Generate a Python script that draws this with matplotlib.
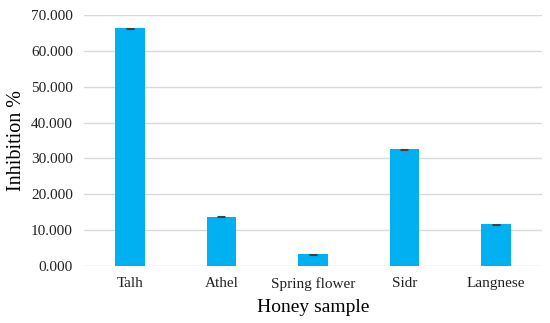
import numpy as np
import matplotlib.pyplot as plt

# values
samples = ['Talh', 'Athel', 'Spring flower', 'Sidr', 'Langnese']
inhibition = [66.3, 13.8, 3.3, 32.5, 11.6]
errors = [0.2, 0.2, 0.15, 0.2, 0.15]

plt.rcParams['font.family'] = ['Liberation Serif', 'DejaVu Serif']

fig = plt.figure(figsize=(5.5, 3.23), dpi=100)
ax = fig.add_axes([0.153, 0.1765, 0.832, 0.777])

x = np.arange(len(samples))
ax.bar(x, inhibition, width=0.32, color='#00b0f0', zorder=3,
       yerr=errors, error_kw=dict(ecolor='#404040', elinewidth=0.8, capsize=3, capthick=0.8))

ax.set_ylim(0, 70)
ax.set_xlim(-0.5, len(samples) - 0.5)
ax.set_yticks(np.arange(0, 71, 10))
ax.set_yticklabels(['%.3f' % v for v in np.arange(0, 71, 10)])
ax.set_xticks(x)
ax.set_xticklabels(samples)
ax.tick_params(axis='both', length=0, labelsize=11, colors='#222222')
ax.tick_params(axis='y', pad=8)
ax.tick_params(axis='x', pad=8)
ax.grid(axis='y', color='#d9d9d9', linewidth=1, zorder=0)
for s in ax.spines.values():
    s.set_visible(False)

ax.set_xlabel('Honey sample', fontsize=14, labelpad=6)
ax.set_ylabel('Inhibition %', fontsize=14.5, labelpad=4)

fig.savefig('out.png', dpi=100)
